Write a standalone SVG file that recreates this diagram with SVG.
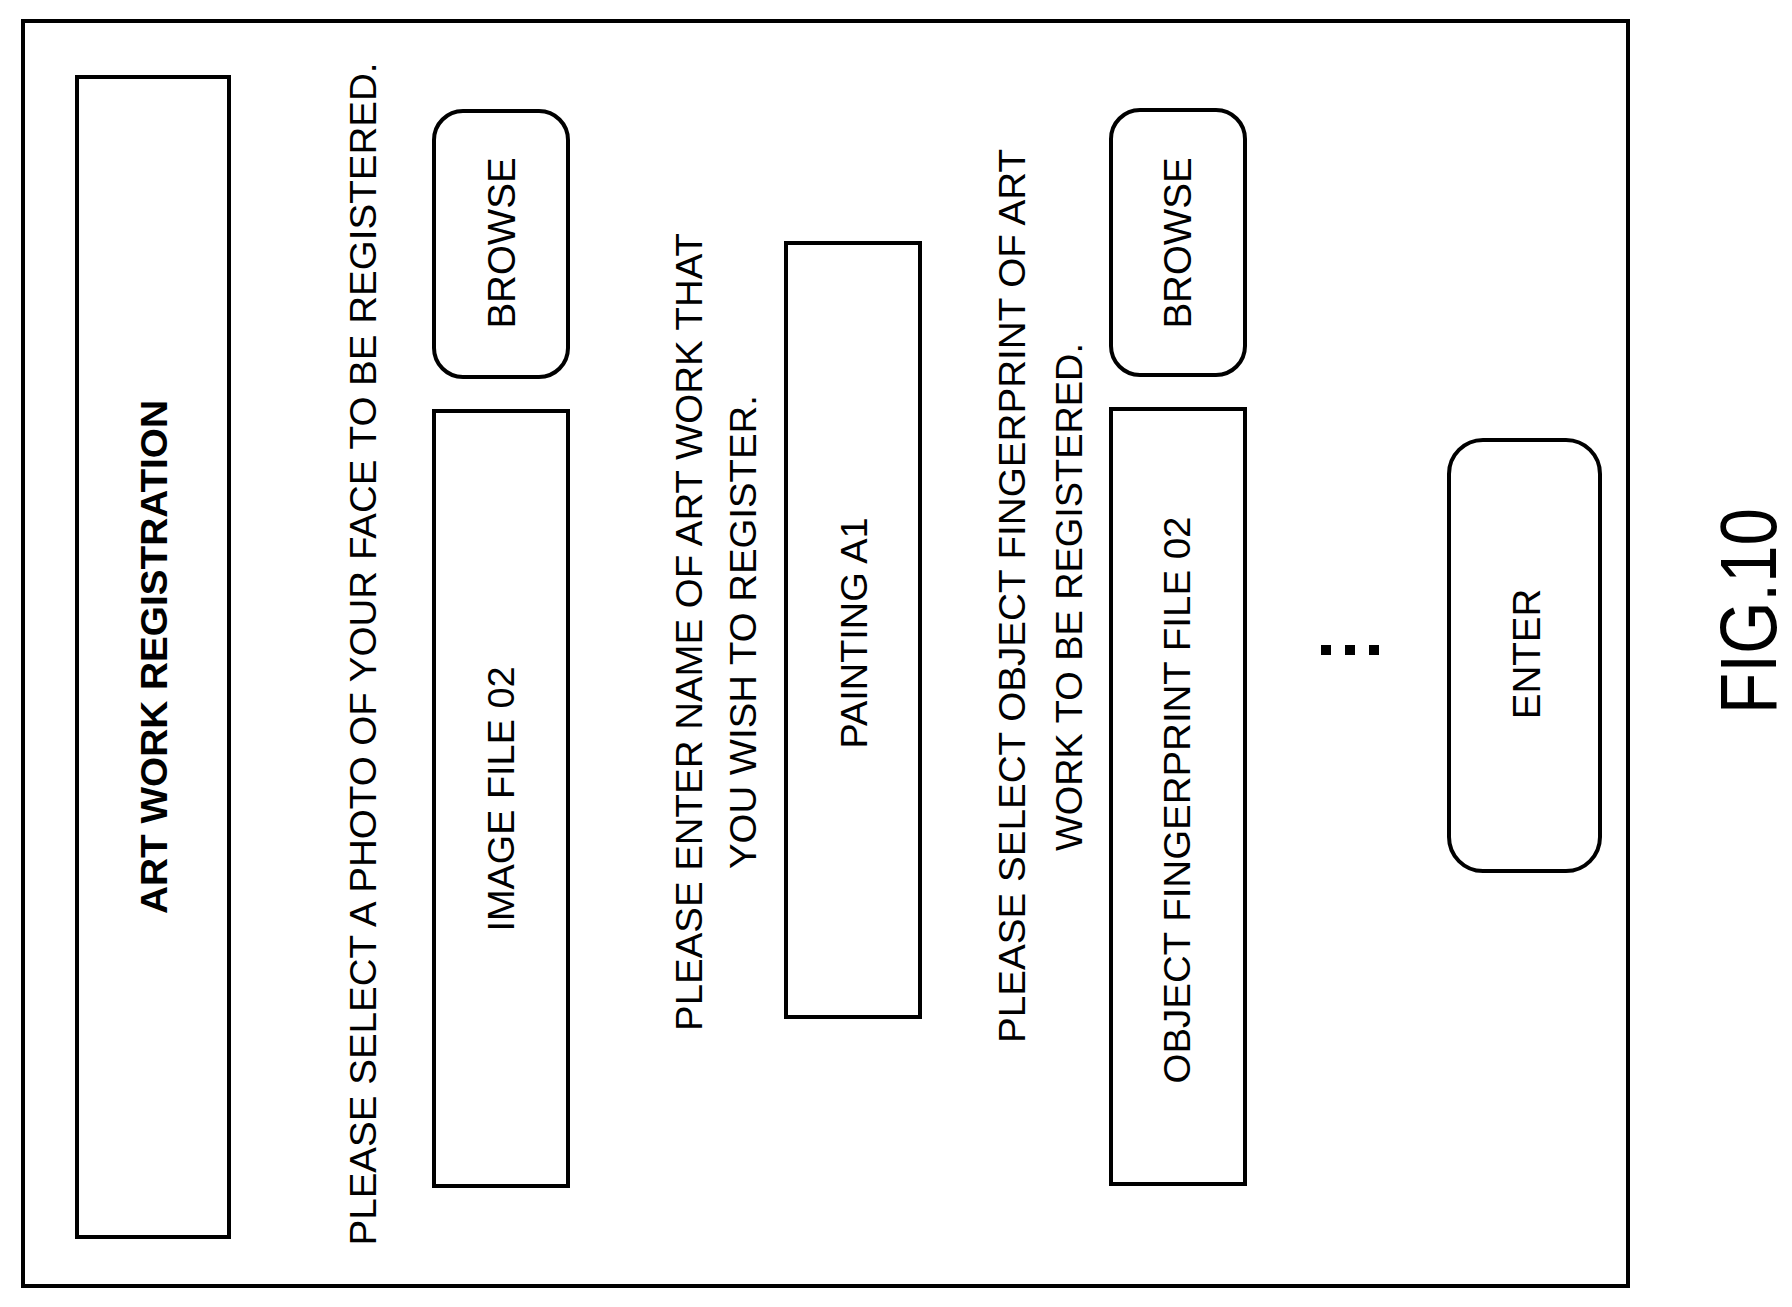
<svg xmlns="http://www.w3.org/2000/svg" width="1792" height="1307" viewBox="0 0 1792 1307">
<style>
.b{fill:none;stroke:#000;stroke-width:4}
.t{font-family:"Liberation Sans",Arial,sans-serif;font-size:36px;fill:#000;text-anchor:middle;dominant-baseline:central}
.s{font-size:38.5px}
</style>
<rect width="1792" height="1307" fill="#fff"/>
<rect class="b" x="23" y="21" width="1605" height="1265"/>
<g id="title"><rect class="b" x="77" y="77" width="152" height="1160"/>
<text class="t" style="font-weight:bold" transform="translate(154,657) rotate(-90)" textLength="514" lengthAdjust="spacingAndGlyphs">ART WORK REGISTRATION</text></g>
<g id="label1"><text class="t" transform="translate(363,654) rotate(-90)" textLength="1183" lengthAdjust="spacingAndGlyphs">PLEASE SELECT A PHOTO OF YOUR FACE TO BE REGISTERED.</text></g>
<g id="browse1"><rect class="b" x="434" y="111" width="134" height="266" rx="29"/>
<text class="t s" transform="translate(501,243) rotate(-90)">BROWSE</text></g>
<g id="imagefile"><rect class="b" x="434" y="411" width="134" height="775"/>
<text class="t" transform="translate(501,799) rotate(-90)" textLength="265" lengthAdjust="spacingAndGlyphs">IMAGE FILE 02</text></g>
<g id="label2"><text class="t" transform="translate(689,632) rotate(-90)" textLength="798" lengthAdjust="spacingAndGlyphs">PLEASE ENTER NAME OF ART WORK THAT</text>
<text class="t" transform="translate(743,632) rotate(-90)" textLength="474" lengthAdjust="spacingAndGlyphs">YOU WISH TO REGISTER.</text></g>
<g id="painting"><rect class="b" x="786" y="243" width="134" height="774"/>
<text class="t" transform="translate(854,633) rotate(-90)" textLength="231" lengthAdjust="spacingAndGlyphs">PAINTING A1</text></g>
<g id="label3"><text class="t" transform="translate(1012,596) rotate(-90)" textLength="894" lengthAdjust="spacingAndGlyphs">PLEASE SELECT OBJECT FINGERPRINT OF ART</text>
<text class="t" transform="translate(1069,597) rotate(-90)" textLength="508" lengthAdjust="spacingAndGlyphs">WORK TO BE REGISTERED.</text></g>
<g id="browse2"><rect class="b" x="1111" y="110" width="134" height="265" rx="29"/>
<text class="t s" transform="translate(1177,243) rotate(-90)">BROWSE</text></g>
<g id="fpfile"><rect class="b" x="1111" y="409" width="134" height="775"/>
<text class="t" transform="translate(1177,800) rotate(-90)" textLength="567" lengthAdjust="spacingAndGlyphs">OBJECT FINGERPRINT FILE 02</text></g>
<g id="ellipsis"><rect x="1321" y="645" width="10" height="10"/><rect x="1345" y="645" width="10" height="10"/><rect x="1369" y="645" width="10" height="10"/></g>
<g id="enter"><rect class="b" x="1449" y="440" width="151" height="431" rx="34"/>
<text class="t s" transform="translate(1526,654) rotate(-90)">ENTER</text></g>
<text class="t" style="font-size:80px" transform="translate(1748,611) rotate(-90)" textLength="206" lengthAdjust="spacingAndGlyphs">FIG.10</text>
<g id="connectors"/>
</svg>
